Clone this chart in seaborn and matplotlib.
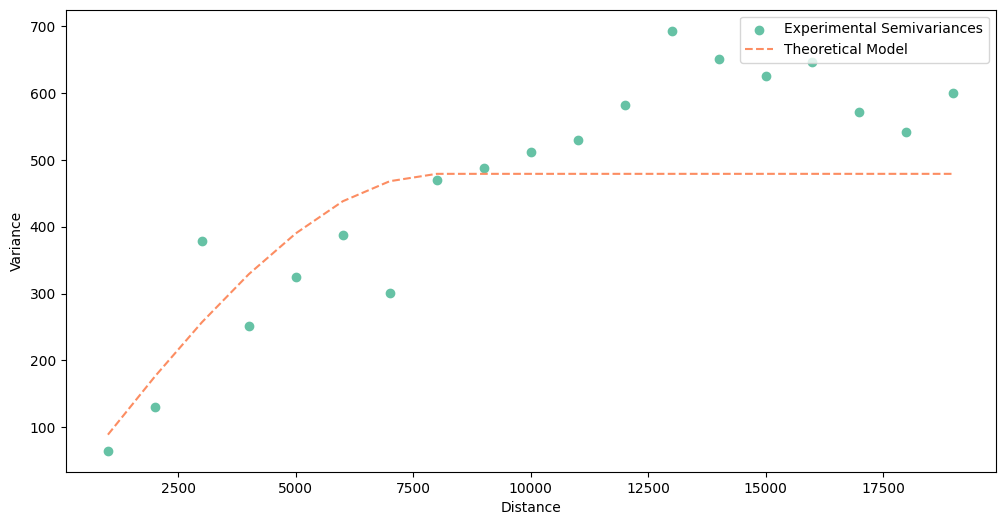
import matplotlib
matplotlib.use("Agg")
import matplotlib.pyplot as plt
import seaborn as sns
import pandas as pd

distance = [1000, 2000, 3000, 4000, 5000, 6000, 7000, 8000, 9000, 10000,
            11000, 12000, 13000, 14000, 15000, 16000, 17000, 18000, 19000]
semivariance = [65, 130, 378, 251, 325, 388, 301, 470, 487, 512,
                530, 582, 693, 650, 626, 646, 572, 541, 600]
model = [89, 176, 257, 329, 390, 438, 468, 479, 479, 479,
         479, 479, 479, 479, 479, 479, 479, 479, 479]

df = pd.DataFrame({"Distance": distance, "Semivariance": semivariance, "Model": model})
pal = sns.color_palette("Set2")

fig, ax = plt.subplots(figsize=(12, 6), dpi=100)
sns.scatterplot(data=df, x="Distance", y="Semivariance", ax=ax, color=pal[0],
                s=36, edgecolor=pal[0], linewidth=1, label="Experimental Semivariances")
sns.lineplot(data=df, x="Distance", y="Model", ax=ax, color=pal[1],
             linestyle="--", label="Theoretical Model")
ax.set_xlabel("Distance")
ax.set_ylabel("Variance")
ax.legend(loc="upper right")
fig.savefig("out.png", dpi=100, bbox_inches="tight")
